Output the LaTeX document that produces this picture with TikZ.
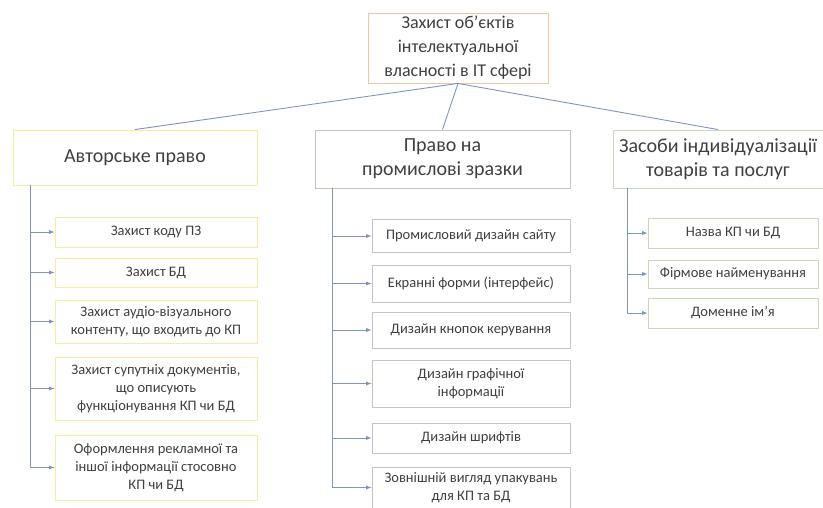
\documentclass[tikz,border=0pt]{standalone}
\usepackage{fontspec}
\setmainfont{Carlito}
\usepackage{xcolor}

\definecolor{rootc}{RGB}{246,196,165}
\definecolor{leftc}{RGB}{255,232,160}
\definecolor{midc}{RGB}{196,196,196}
\definecolor{rightc}{RGB}{202,216,186}
\definecolor{linec}{RGB}{128,148,196}
\definecolor{txtc}{RGB}{64,64,64}

\begin{document}
\begin{tikzpicture}[x=1pt,y=-1pt,
  box/.style={draw,fill=white,line width=0.9pt,inner sep=0pt,align=center,text=txtc},
  title/.style={box,font=\fontsize{20}{24}\selectfont},
  item/.style={box,font=\fontsize{14.5}{18}\selectfont},
  link/.style={draw=linec,line width=0.9pt}]
\useasboundingbox (0,0) rectangle (823,508);
\clip (0,0) rectangle (823,508);

\node[box,draw=rootc,minimum width=180,minimum height=70,font=\fontsize{18}{24}\selectfont](1) at(458,48){Захист об'єктів\\інтелектуальної\\власності в ІТ сфері};

\node[title,draw=leftc,minimum width=244,minimum height=55](2) at(135,157.5){Авторське право};
\node[title,draw=midc,minimum width=255,minimum height=58](3) at(442.5,159){Право на\\промислові зразки};
\node[title,draw=rightc,minimum width=210,minimum height=58](4) at(718,159){Засоби індивідуалізації\\товарів та послуг};

\node[item,draw=leftc,minimum width=202,minimum height=30](5) at(156,232){Захист коду ПЗ};
\node[item,draw=leftc,minimum width=202,minimum height=29](6) at(156,272.5){Захист БД};
\node[item,draw=leftc,minimum width=202,minimum height=43](7) at(156,321.5){Захист аудіо-візуального\\контенту, що входить до КП};
\node[item,draw=leftc,minimum width=202,minimum height=63](8) at(156,388.5){Захист супутніх документів,\\що описують\\функціонування КП чи БД};
\node[item,draw=leftc,minimum width=202,minimum height=65](9) at(156,467.5){Оформлення рекламної та\\іншої інформації стосовно\\КП чи БД};

\node[item,draw=midc,minimum width=198,minimum height=33](10) at(471,236){Промисловий дизайн сайту};
\node[item,draw=midc,minimum width=198,minimum height=37](11) at(471,283.5){Екранні форми (інтерфейс)};
\node[item,draw=midc,minimum width=198,minimum height=36](12) at(471,330){Дизайн кнопок керування};
\node[item,draw=midc,minimum width=198,minimum height=47](13) at(471,383.5){Дизайн графічної\\інформації};
\node[item,draw=midc,minimum width=198,minimum height=30](14) at(471,438){Дизайн шрифтів};
\node[item,draw=midc,minimum width=198,minimum height=41](15) at(471,487.5){Зовнішній вигляд упакувань\\для КП та БД};

\node[item,draw=rightc,minimum width=170,minimum height=30](16) at(733,233){Назва КП чи БД};
\node[item,draw=rightc,minimum width=170,minimum height=28](17) at(733,274){Фірмове найменування};
\node[item,draw=rightc,minimum width=170,minimum height=30](18) at(733,313){Доменне ім'я};

% branch points
\coordinate(a) at(30,185);
\coordinate(b) at(332,188);
\coordinate(c) at(627,188);

\draw [link](1.south)--(2.north);
\draw [link](1.south)--(3.north);
\draw [link](1.south)--(4.north);

\foreach \i in {5,...,9}
  \draw [link,->,>=latex](a)|-(\i.west);
\foreach \i in {10,...,15}
  \draw [link,->,>=latex](b)|-(\i.west);
\foreach \i in {16,17,18}
  \draw [link,->,>=latex](c)|-(\i.west);
\end{tikzpicture}
\end{document}
